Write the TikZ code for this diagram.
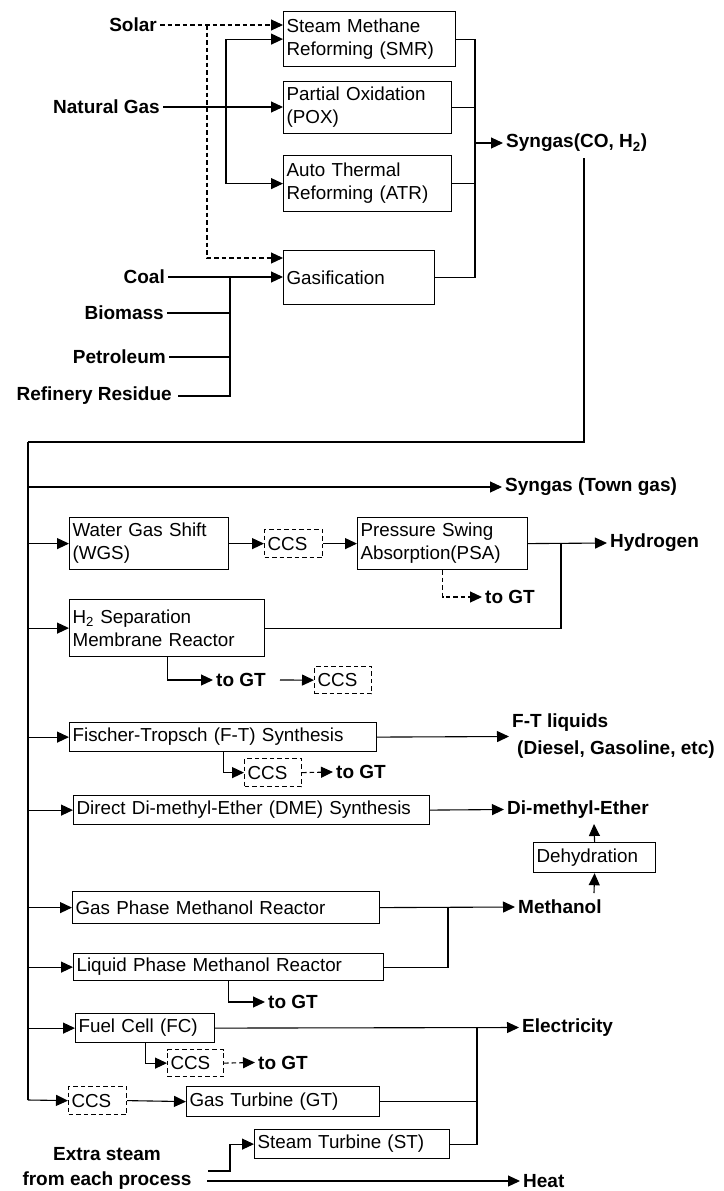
\documentclass[tikz,border=0pt]{standalone}
\usepackage{fontspec}
\setmainfont{Liberation Sans}
\usetikzlibrary{arrows.meta,calc}
\begin{document}
\begin{tikzpicture}[x=1pt,y=-1pt,
  font=\fontsize{18.8}{23}\selectfont,
  box/.style={draw, line width=1.2pt, rectangle, anchor=north west, inner xsep=3pt, inner ysep=0pt, align=left},
  dbox/.style={box, dash pattern=on 4.5pt off 3pt},
  lab/.style={font=\fontsize{19}{24}\selectfont\bfseries, inner xsep=3pt, inner ysep=1pt},
  ln/.style={line width=1.1pt},
  arr/.style={ln, -{Triangle[length=12pt,width=11pt]}},
  darr/.style={arr, dash pattern=on 4.5pt off 3pt},
  bus/.style={line width=2.2pt}
]
\useasboundingbox (0,0) rectangle (723,1191);

% ---------- boxes ----------
\node[box, minimum width=172pt, minimum height=55pt, text width=166pt] (smr) at (283,11) {Steam Methane\\Reforming (SMR)};
\node[box, minimum width=168pt, minimum height=52pt, text width=162pt] (pox) at (283,81) {Partial Oxidation\\(POX)};
\node[box, minimum width=168pt, minimum height=56pt, text width=162pt] (atr) at (283,155) {Auto Thermal\\Reforming (ATR)};
\node[box, minimum width=151pt, minimum height=54pt, text width=145pt] (gasf) at (283,250) {Gasification};

\node[box, minimum width=159pt, minimum height=52pt, text width=153pt] (wgs) at (69,517) {Water Gas Shift\\(WGS)};
\node[dbox, minimum width=58pt, minimum height=28pt, text width=52pt] (ccsA) at (264,529) {CCS};
\node[box, minimum width=170pt, minimum height=52pt, text width=164pt] (psa) at (357,517) {Pressure Swing\\Absorption(PSA)};
\node[box, minimum width=195pt, minimum height=57pt, text width=189pt] (hsep) at (69,599) {H\textsubscript{2} Separation\\Membrane Reactor};
\node[dbox, minimum width=57pt, minimum height=27pt, text width=51pt] (ccsB) at (314,666) {CCS};
\node[box, minimum width=307pt, minimum height=29pt, text width=301pt] (ft) at (69,722) {Fischer-Tropsch (F-T) Synthesis};
\node[dbox, minimum width=57pt, minimum height=28pt, text width=51pt] (ccsC) at (244,758) {CCS};
\node[box, minimum width=356pt, minimum height=29pt, text width=350pt] (dme) at (73,795) {Direct Di-methyl-Ether (DME) Synthesis};
\node[box, minimum width=122pt, minimum height=30pt, text width=116pt] (dehyd) at (533,842) {Dehydration};
\node[box, minimum width=307pt, minimum height=32pt, text width=301pt] (gpm) at (72,891) {Gas Phase Methanol Reactor};
\node[box, minimum width=310pt, minimum height=27pt, text width=304pt] (lpm) at (73,953) {Liquid Phase Methanol Reactor};
\node[box, minimum width=139pt, minimum height=29pt, text width=133pt] (fc) at (75,1013) {Fuel Cell (FC)};
\node[dbox, minimum width=56pt, minimum height=27pt, text width=50pt] (ccsD) at (167,1049) {CCS};
\node[dbox, minimum width=58pt, minimum height=28pt, text width=52pt] (ccsE) at (68,1086) {CCS};
\node[box, minimum width=193pt, minimum height=30pt, text width=187pt] (gt) at (186,1086) {Gas Turbine (GT)};
\node[box, minimum width=195pt, minimum height=29pt, text width=189pt] (st) at (254,1129) {Steam Turbine (ST)};

% ---------- labels ----------
\node[lab, anchor=east] (solar) at (160,25) {Solar};
\node[lab, anchor=east] (ngl) at (163,107) {Natural Gas};
\node[lab, anchor=east] (coal) at (168,277) {Coal};
\node[lab, anchor=east] (bio) at (167,313) {Biomass};
\node[lab, anchor=east] (pet) at (169,357) {Petroleum};
\node[lab, anchor=east] (ref) at (175,396) {Refinery Residue};

\node[lab, anchor=west] (syng) at (503,143) {Syngas(CO, H\textsubscript{2})};
\node[lab, anchor=west] (town) at (502,487) {Syngas (Town gas)};
\node[lab, anchor=west] (hyd) at (607,543) {Hydrogen};
\node[lab, anchor=west] (togtA) at (482,597) {to GT};
\node[lab, anchor=west] (togtB) at (213,680) {to GT};
\node[lab, anchor=west, align=left, font=\fontsize{19}{27}\selectfont\bfseries] (ftl) at (509,736.5) {F-T liquids\\\hspace*{5pt}(Diesel, Gasoline, etc)};
\node[lab, anchor=west] (togtC) at (333,772) {to GT};
\node[lab, anchor=west] (dmel) at (504,809.5) {Di-methyl-Ether};
\node[lab, anchor=west] (meth) at (515,907) {Methanol};
\node[lab, anchor=west] (togtD) at (265,1002) {to GT};
\node[lab, anchor=west] (elec) at (519,1027.5) {Electricity};
\node[lab, anchor=west] (togtE) at (255,1062.5) {to GT};
\node[lab, align=center, font=\fontsize{19}{25}\selectfont\bfseries] (extra) at (107,1168) {Extra steam\\from each process};
\node[lab, anchor=west] (heat) at (520,1181) {Heat};

% ---------- coordinates ----------
\coordinate (sj) at (207,25);
\coordinate (gin) at (283,258);
\coordinate (ngj) at (226,107);
\coordinate (col) at (475,143);
\coordinate (cj) at (230,277);
\coordinate (sgo) at (584,158);
\coordinate (sgc) at (584,442);
\coordinate (bustop) at (28,442);
\coordinate (busbot) at (28,1100);
\coordinate (hj) at (561,543);
\coordinate (dmeb) at (594,824);
\coordinate (methb) at (594,893);
\coordinate (mj) at (448,907);
\coordinate (ej) at (477,1027.5);
\coordinate (xs) at (208,1171);
\coordinate (hs) at (207,1181);

% ---------- upper part ----------
\draw[darr] (solar.east) -- (solar.east -| smr.west);
\draw[darr] (sj) |- (gin);
\draw[arr] (ngl.east) -- (ngl.east -| pox.west);
\draw[arr] (ngj) |- (smr.west);
\draw[arr] (ngj) |- (atr.west);
\draw[ln] (smr.east) -| (col) |- (gasf.east);
\draw[ln] (pox.east) -- (pox.east -| col);
\draw[ln] (atr.east) -- (atr.east -| col);
\draw[arr] (col) -- (syng.west);
\draw[arr] (coal.east) -- (coal.east -| gasf.west);
\draw[ln] (bio.east) -| (cj);
\draw[ln] (pet.east) -| (cj);
\draw[ln] ([xshift=3pt]ref.east) -| (cj);

% ---------- main bus ----------
\draw[ln] (sgo) -- (sgc) -- (bustop);
\draw[bus] (bustop) -- (busbot);

\draw[arr] (bustop |- town.west) -- (town.west);
\draw[arr] (bustop |- wgs.west) -- (wgs.west);
\draw[arr] (wgs.east) -- (ccsA.west);
\draw[arr] (ccsA.east) -- (psa.west);
\draw[arr] (psa.east) -- (hyd.west);
\draw[ln] (hj) |- (hsep.east);
\draw[darr] (psa.south) |- (togtA.west);

\draw[arr] (bustop |- hsep.west) -- (hsep.west);
\draw[arr] (hsep.south) |- (togtB.west);
\draw[arr] ([xshift=11pt]togtB.east) -- (ccsB.west);

\draw[arr] (bustop |- ft.west) -- (ft.west);
\draw[arr] (ft.east) -- (ftl.west);
\draw[arr] (ft.south) |- (ccsC.west);
\draw[darr] (ccsC.east) -- (togtC.west);

\draw[arr] (bustop |- dme.west) -- (dme.west);
\draw[arr] (dme.east) -- (dmel.west);
\draw[arr] (dehyd.north) -- (dmeb);
\draw[arr] (methb) -- (dehyd.south);

\draw[arr] (bustop |- gpm.west) -- (gpm.west);
\draw[arr] (gpm.east) -- (meth.west);
\draw[ln] (lpm.east) -| (mj);
\draw[arr] (bustop |- lpm.west) -- (lpm.west);
\draw[arr] (lpm.south) |- (togtD.west);

\draw[arr] (bustop |- fc.west) -- (fc.west);
\draw[arr] (fc.east) -- (elec.west);
\draw[arr] (fc.south) |- (ccsD.west);
\draw[darr] (ccsD.east) -- (togtE.west);

\draw[arr] (busbot) -- (ccsE.west);
\draw[arr] (ccsE.east) -- (gt.west);
\draw[ln] (gt.east) -| (ej);
\draw[ln] (st.east) -| (ej);

\draw[arr] (xs) -| ([xshift=-24pt]st.west) -- (st.west);
\draw[arr] (hs) -- (heat.west);
\end{tikzpicture}
\end{document}
